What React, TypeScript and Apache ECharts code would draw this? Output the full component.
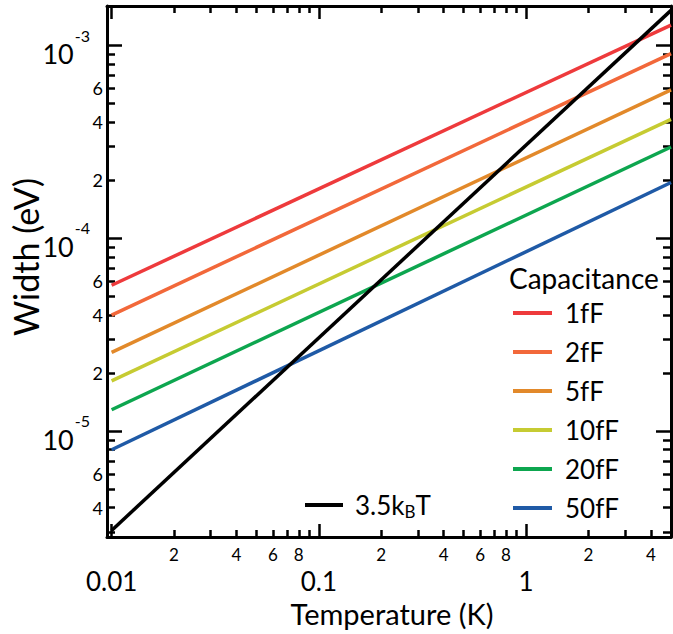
import React, { useEffect, useRef } from 'react';
import * as echarts from 'echarts';

// ---- data ----
const capacitanceNames = ['1fF', '2fF', '5fF', '10fF', '20fF', '50fF'];
const capacitanceColors = ['#EE3A3C', '#F2683A', '#E2892A', '#C6CB32', '#0DA64F', '#1F5AA6'];
const temperatureEnds = [0.01, 5];
const widthAtLowT = [5.71e-5, 4.0e-5, 2.56e-5, 1.82e-5, 1.29e-5, 8.0e-6];
const widthAtHighT = [1.28e-3, 9.1e-4, 5.9e-4, 4.15e-4, 2.98e-4, 1.95e-4];

const thermalName = '3.5kBT';
const thermalT = [0.01, 5];
const thermalWidth = [3.05e-6, 1.525e-3];

// ---- axes ----
const xRange = [0.0095, 5];
const yRange = [2.82e-6, 1.607e-3];

const xMajorTicks = [0.01, 0.1, 1];
const xMajorLabels = ['0.01', '0.1', '1'];
const xMinorTicks = [0.02, 0.03, 0.04, 0.05, 0.06, 0.07, 0.08, 0.09, 0.2, 0.3, 0.4, 0.5, 0.6, 0.7, 0.8, 0.9, 2, 3, 4];
const xMinorLabelValues = [0.02, 0.04, 0.06, 0.08, 0.2, 0.4, 0.6, 0.8, 2, 4];
const xMinorLabels = ['2', '4', '6', '8', '2', '4', '6', '8', '2', '4'];

const yMajorTicks = [1e-5, 1e-4, 1e-3];
const yMajorExponents = ['-5', '-4', '-3'];
const yMinorTicks = [3e-6, 4e-6, 5e-6, 6e-6, 7e-6, 8e-6, 9e-6, 2e-5, 3e-5, 4e-5, 5e-5, 6e-5, 7e-5, 8e-5, 9e-5, 2e-4, 3e-4, 4e-4, 5e-4, 6e-4, 7e-4, 8e-4, 9e-4];
const yMinorLabelValues = [4e-6, 6e-6, 2e-5, 4e-5, 6e-5, 2e-4, 4e-4, 6e-4];
const yMinorLabels = ['4', '6', '2', '4', '6', '2', '4', '6'];

const FONT = 'Lato';

function findIndex(arr: number[], v: number): number {
  for (let i = 0; i < arr.length; i++) {
    if (Math.abs(v / arr[i] - 1) < 1e-6) return i;
  }
  return -1;
}

export default function App() {
  const ref = useRef<HTMLDivElement>(null);

  useEffect(() => {
    if (!ref.current) return;
    const chart = echarts.init(ref.current, undefined, { renderer: 'svg' });

    const axisLineStyle = { color: '#000', width: 3 };
    const tickStyle = { color: '#000', width: 2.5 };

    const baseX = { type: 'log', min: xRange[0], max: xRange[1], logBase: 10, splitLine: { show: false } };
    const baseY = { type: 'log', min: yRange[0], max: yRange[1], logBase: 10, splitLine: { show: false } };

    const series: any[] = capacitanceNames.map((name, i) => ({
      name,
      type: 'line',
      xAxisIndex: 0,
      yAxisIndex: 0,
      symbol: 'none',
      data: [
        [temperatureEnds[0], widthAtLowT[i]],
        [temperatureEnds[1], widthAtHighT[i]],
      ],
      lineStyle: { color: capacitanceColors[i], width: 3.5 },
      itemStyle: { color: capacitanceColors[i] },
    }));
    series.push({
      name: thermalName,
      type: 'line',
      xAxisIndex: 0,
      yAxisIndex: 0,
      symbol: 'none',
      data: thermalT.map((t, i) => [t, thermalWidth[i]]),
      lineStyle: { color: '#000', width: 3.5 },
      itemStyle: { color: '#000' },
    });

    const option: any = {
      animation: false,
      backgroundColor: '#fff',
      textStyle: { fontFamily: FONT },
      grid: {
        left: 107,
        top: 6,
        right: 2,
        bottom: 97,
        containLabel: false,
        outerBoundsMode: 'none',
      },
      xAxis: [
        {
          ...baseX,
          position: 'bottom',
          axisLine: { show: true, onZero: false, lineStyle: axisLineStyle },
          axisTick: { show: true, inside: true, length: 13, lineStyle: tickStyle, customValues: xMajorTicks },
          axisLabel: {
            show: true,
            customValues: xMajorTicks,
            margin: 31,
            color: '#000',
            fontFamily: FONT,
            fontSize: 26,
            formatter: (v: number) => {
              const mi = findIndex(xMajorTicks, v);
              return mi >= 0 ? xMajorLabels[mi] : '';
            },
          },
        },
        {
          ...baseX,
          position: 'bottom',
          axisLine: { show: false, onZero: false },
          axisTick: { show: true, inside: true, length: 7, lineStyle: tickStyle, customValues: xMinorTicks },
          axisLabel: {
            show: true,
            customValues: xMinorLabelValues,
            margin: 9,
            color: '#000',
            fontFamily: FONT,
            fontSize: 17,
            formatter: (v: number) => {
              const ni = findIndex(xMinorLabelValues, v);
              return ni >= 0 ? xMinorLabels[ni] : '';
            },
          },
        },
        {
          ...baseX,
          position: 'top',
          axisLine: { show: true, onZero: false, lineStyle: axisLineStyle },
          axisTick: { show: true, inside: true, length: 13, lineStyle: tickStyle, customValues: xMajorTicks },
          axisLabel: { show: false },
        },
        {
          ...baseX,
          position: 'top',
          axisLine: { show: false, onZero: false },
          axisTick: { show: true, inside: true, length: 7, lineStyle: tickStyle, customValues: xMinorTicks },
          axisLabel: { show: false },
        },
      ],
      yAxis: [
        {
          ...baseY,
          position: 'left',
          axisLine: { show: true, onZero: false, lineStyle: axisLineStyle },
          axisTick: { show: true, inside: true, length: 15, lineStyle: tickStyle, customValues: yMajorTicks },
          axisLabel: {
            show: true,
            customValues: yMajorTicks,
            margin: 17,
            color: '#000',
            fontFamily: FONT,
            formatter: (v: number) => {
              const mi = findIndex(yMajorTicks, v);
              return mi >= 0 ? '{b|10}{s|' + yMajorExponents[mi] + '}' : '';
            },
            rich: {
              b: { fontSize: 27, fontFamily: FONT, color: '#000', padding: [16, 0, 0, 0] },
              s: { fontSize: 16, fontFamily: FONT, color: '#000', padding: [0, 0, 21, 1] },
            },
          },
        },
        {
          ...baseY,
          position: 'left',
          axisLine: { show: false, onZero: false },
          axisTick: { show: true, inside: true, length: 8, lineStyle: tickStyle, customValues: yMinorTicks },
          axisLabel: {
            show: true,
            customValues: yMinorLabelValues,
            margin: 4,
            color: '#000',
            fontFamily: FONT,
            fontSize: 18,
            formatter: (v: number) => {
              const ni = findIndex(yMinorLabelValues, v);
              return ni >= 0 ? yMinorLabels[ni] : '';
            },
          },
        },
        {
          ...baseY,
          position: 'right',
          axisLine: { show: true, onZero: false, lineStyle: axisLineStyle },
          axisTick: { show: true, inside: true, length: 15, lineStyle: tickStyle, customValues: yMajorTicks },
          axisLabel: { show: false },
        },
        {
          ...baseY,
          position: 'right',
          axisLine: { show: false, onZero: false },
          axisTick: { show: true, inside: true, length: 8, lineStyle: tickStyle, customValues: yMinorTicks },
          axisLabel: { show: false },
        },
      ],
      legend: [
        {
          data: capacitanceNames,
          orient: 'vertical',
          left: 513,
          top: 298,
          padding: 0,
          itemWidth: 39,
          itemHeight: 4,
          itemGap: 9,
          icon: 'rect',
          selectedMode: false,
          textStyle: { fontSize: 26, fontFamily: FONT, color: '#000', lineHeight: 30, padding: [0, 0, 0, 8] },
        },
        {
          data: [thermalName],
          orient: 'vertical',
          left: 305,
          top: 490,
          padding: 0,
          itemWidth: 38,
          itemHeight: 4,
          icon: 'rect',
          selectedMode: false,
          formatter: () => '3.5k{sub|B}T',
          textStyle: {
            fontSize: 26,
            fontFamily: FONT,
            color: '#000',
            lineHeight: 30,
            padding: [0, 0, 0, 7],
            rich: {
              sub: { fontSize: 17, fontFamily: FONT, color: '#000', padding: [13, 0, 0, 0] },
            },
          },
        },
      ],
      graphic: [
        {
          type: 'text',
          left: 509,
          top: 264,
          style: { text: 'Capacitance', fontSize: 28, fontFamily: FONT, fill: '#000' },
        },
        {
          type: 'text',
          x: 392,
          y: 613,
          style: { text: 'Temperature (K)', fontSize: 29, fontFamily: FONT, fill: '#000', align: 'center', verticalAlign: 'middle' },
        },
        {
          type: 'text',
          x: 25,
          y: 257,
          rotation: Math.PI / 2,
          style: { text: 'Width (eV)', fontSize: 34, fontFamily: FONT, fill: '#000', align: 'center', verticalAlign: 'middle' },
        },
      ],
      series,
    };

    chart.setOption(option);
    return () => chart.dispose();
  }, []);

  return (
    <div
      ref={ref}
      style={{ position: 'absolute', left: 0, top: 0, width: 673, height: 634, background: '#fff' }}
    />
  );
}
